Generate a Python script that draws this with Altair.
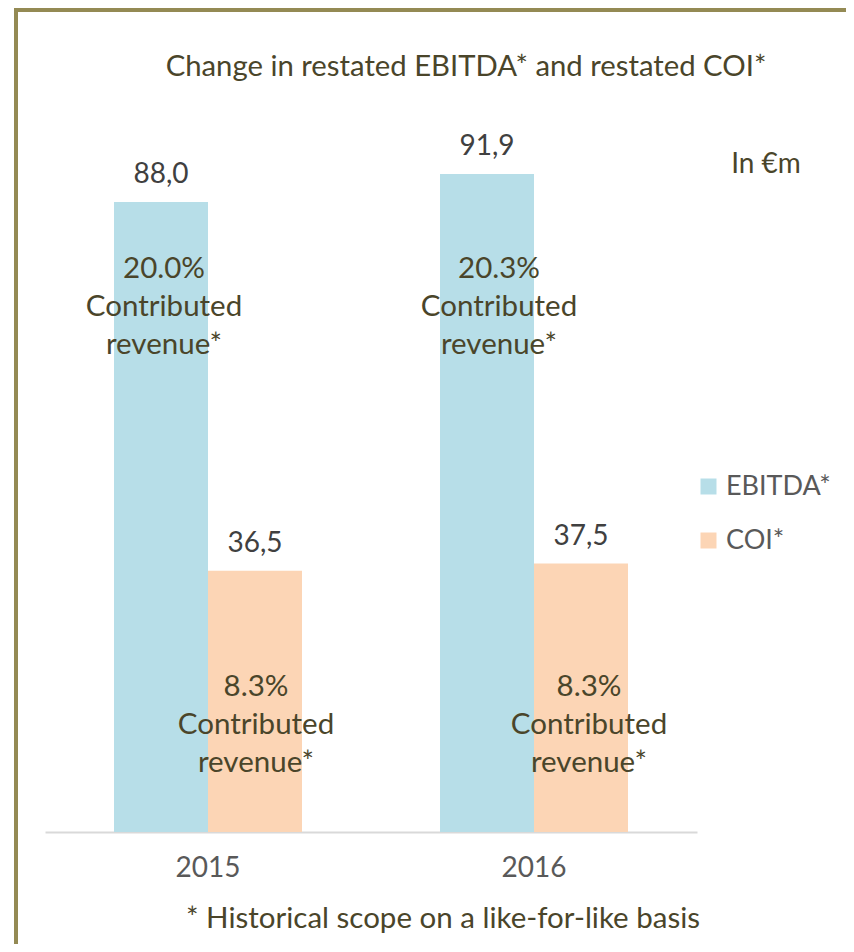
import altair as alt
import pandas as pd

# ---- data ----
years = ["2015", "2016"]
series = ["EBITDA*", "COI*"]
ebitda = [88.0, 91.9]
coi = [36.5, 37.5]
ebitda_share = ["20.0%", "20.3%"]
coi_share = ["8.3%", "8.3%"]
share_caption = "Contributed\nrevenue*"
title_text = "Change in restated EBITDA* and restated COI*"
unit_text = "In €m"
footnote_text = "* Historical scope on a like-for-like basis"
# vertical anchor of the in-bar captions (value units), one per series
caption_level = [77.4, 19.0]

colors = ["#B7DEE8", "#FCD5B5"]
FONT = "Lato"
OLIVE = "#4A452A"

rows = []
for i, y in enumerate(years):
    rows.append({"year": y, "series": series[0], "value": ebitda[i],
                 "label": f"{ebitda[i]:.1f}".replace(".", ","),
                 "caption": ebitda_share[i] + "\n" + share_caption,
                 "level": caption_level[0]})
    rows.append({"year": y, "series": series[1], "value": coi[i],
                 "label": f"{coi[i]:.1f}".replace(".", ","),
                 "caption": coi_share[i] + "\n" + share_caption,
                 "level": caption_level[1]})
df = pd.DataFrame(rows)

W, H = 652, 716

x_enc = alt.X("year:N", sort=years,
              scale=alt.Scale(paddingInner=0.4233, paddingOuter=0.2117),
              axis=alt.Axis(title=None, labelAngle=0, ticks=False,
                            domainColor="#D9D9D9", domainWidth=2,
                            labelColor="#595959", labelFontSize=28,
                            labelFont=FONT, labelPadding=22, grid=False))
xo_enc = alt.XOffset("series:N", sort=series,
                     scale=alt.Scale(paddingInner=0, paddingOuter=0))
y_scale = alt.Scale(domain=[0, 100], nice=False)

base = alt.Chart(df)

bars = base.mark_bar().encode(
    x=x_enc,
    xOffset=xo_enc,
    y=alt.Y("value:Q", scale=y_scale, axis=None),
    color=alt.Color("series:N", sort=series,
                    scale=alt.Scale(domain=series, range=colors),
                    legend=alt.Legend(title=None, orient="none",
                                      legendX=650, legendY=357,
                                      symbolType="square", symbolSize=256,
                                      symbolStrokeWidth=0, symbolOpacity=1,
                                      labelFont=FONT, labelFontSize=27,
                                      labelColor="#595959", labelOffset=4,
                                      rowPadding=26, padding=0)),
)

values = base.mark_text(font=FONT, fontSize=28, color="#404040",
                        baseline="alphabetic", dy=-19).encode(
    x=alt.X("year:N", sort=years),
    xOffset=xo_enc,
    y=alt.Y("value:Q", scale=y_scale, axis=None),
    text="label:N",
)

layers = [bars, values]

caption_dx = {("2015", "EBITDA*"): 3, ("2015", "COI*"): 1,
              ("2016", "EBITDA*"): 12, ("2016", "COI*"): 8}
for (yr, sr), dx in caption_dx.items():
    layers.append(
        base.transform_filter(
            (alt.datum.year == yr) & (alt.datum.series == sr)
        ).mark_text(font=FONT, fontSize=29.5, color=OLIVE, baseline="alphabetic",
                    lineBreak="\n", lineHeight=38, dx=dx).encode(
            x=alt.X("year:N", sort=years),
            xOffset=xo_enc,
            y=alt.Y("level:Q", scale=y_scale, axis=None),
            text="caption:N",
        )
    )

title = alt.Chart(pd.DataFrame({"t": [title_text]})).mark_text(
    font=FONT, fontSize=29.3, color=OLIVE, baseline="alphabetic", align="center"
).encode(x=alt.value(421), y=alt.value(-40), text="t:N")

unit = alt.Chart(pd.DataFrame({"t": [unit_text]})).mark_text(
    font=FONT, fontSize=28, color=OLIVE, baseline="alphabetic", align="center"
).encode(x=alt.value(721), y=alt.value(57), text="t:N")

foot = alt.Chart(pd.DataFrame({"t": [footnote_text]})).mark_text(
    font=FONT, fontSize=29.5, color=OLIVE, baseline="alphabetic", align="center"
).encode(x=alt.value(398), y=alt.value(812), text="t:N")

one = pd.DataFrame({"k": [0]})
top_border = alt.Chart(one).mark_rule(color="#948A54", strokeWidth=4).encode(
    x=alt.value(-31), x2=alt.value(820), y=alt.value(-106))
left_border = alt.Chart(one).mark_rule(color="#948A54", strokeWidth=4).encode(
    x=alt.value(-29), y=alt.value(-108), y2=alt.value(840))

chart = alt.layer(top_border, left_border, *layers, title, unit, foot).properties(
    width=W, height=H, autosize="none", background="white",
    padding={"left": 37, "top": 108, "right": 149, "bottom": 112},
).configure_view(strokeWidth=0)

chart.save("out.html", embed_options={"renderer": "svg", "actions": False})
